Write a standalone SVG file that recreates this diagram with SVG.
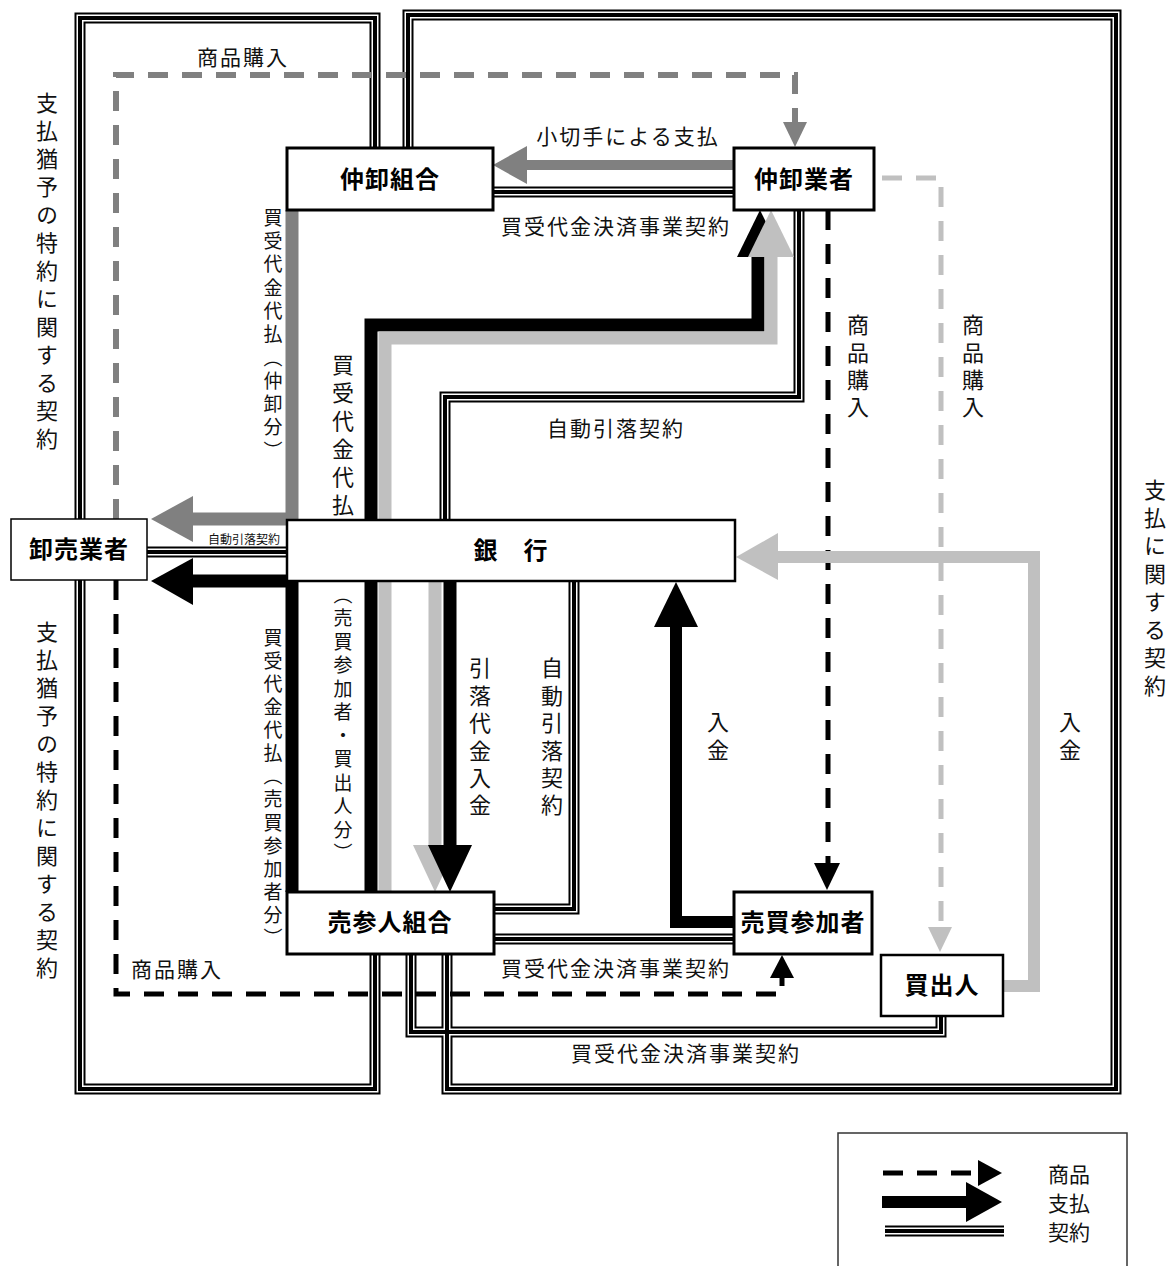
<svg xmlns="http://www.w3.org/2000/svg" width="1170" height="1266" viewBox="0 0 1170 1266">
<style>
.t1{fill:none;stroke:#000;stroke-width:11}
.t2{fill:none;stroke:#fff;stroke-width:7}
.t3{fill:none;stroke:#000;stroke-width:4}
.box{fill:#fff;stroke:#000;stroke-width:3}
.nl{font-family:"Noto Sans CJK JP",sans-serif;font-weight:bold;font-size:24px;text-anchor:middle;letter-spacing:1px;fill:#000}
.lb{font-family:"Noto Sans CJK JP",sans-serif;font-size:21px;text-anchor:middle;letter-spacing:2px;fill:#111}
.vt{font-family:"Noto Sans CJK JP",sans-serif;writing-mode:vertical-rl;fill:#111}
.v22{font-size:22px;letter-spacing:6px}
.dk{fill:none;stroke:#000;stroke-width:5;stroke-dasharray:20 14}
.dg{fill:none;stroke:#808080;stroke-width:6;stroke-dasharray:20 14}
.dl{fill:none;stroke:#c0c0c0;stroke-width:5;stroke-dasharray:20 14}
.pk{fill:none;stroke:#000;stroke-width:13}
.pg{fill:none;stroke:#808080;stroke-width:13}
.pl{fill:none;stroke:#c0c0c0;stroke-width:13}
.hk{fill:#000}
.hg{fill:#808080}
.hl{fill:#c0c0c0}
</style>
<defs>
<path id="c-left" d="M375,148 V18 H80 V1089 H375 V954"/>
<path id="c-right" d="M408,148 V15 H1116 V1089 H447 V954"/>
<path id="c-kk" d="M493,192 H734"/>
<path id="c-jd1" d="M799,210 V397 H445 V520"/>
<path id="c-jd2" d="M574,581 V909 H494"/>
<path id="c-ub" d="M494,939 H734"/>
<path id="c-kd" d="M411,954 V1032 H941 V1016"/>
<path id="c-or" d="M147,552 H287"/>
<path id="c-leg" d="M885,1231 H1004"/>
</defs>

<g id="connectors">
<g class="t1"><use href="#c-left"/><use href="#c-right"/><use href="#c-kk"/><use href="#c-jd1"/><use href="#c-jd2"/><use href="#c-ub"/><use href="#c-kd"/><use href="#c-or"/></g>
<g class="t2"><use href="#c-left"/><use href="#c-right"/><use href="#c-kk"/><use href="#c-jd1"/><use href="#c-jd2"/><use href="#c-ub"/><use href="#c-kd"/><use href="#c-or"/></g>
<g class="t3"><use href="#c-left"/><use href="#c-right"/><use href="#c-kk"/><use href="#c-jd1"/><use href="#c-jd2"/><use href="#c-ub"/><use href="#c-kd"/><use href="#c-or"/></g>

<!-- goods (dashed) -->
<path class="dg" d="M116,519 V75 H795 V124"/>
<polygon class="hg" points="783,122 807,122 795,147"/>
<path class="dk" d="M828,210 V865"/>
<polygon class="hk" points="814,863 840,863 827,890"/>
<path class="dl" d="M882,178 H941 V929"/>
<polygon class="hl" points="928,927 952,927 940,952"/>
<path class="dk" d="M116,580 V994 H782 V976"/>
<polygon class="hk" points="770,978 794,978 782,955"/>

<!-- payments -->
<path class="pg" d="M734,165 H525" style="stroke-width:10"/>
<polygon class="hg" points="527,146 527,184 493,165"/>
<path class="pg" d="M292,210 V519 H191"/>
<polygon class="hg" points="193,496 193,542 151,519"/>
<path class="pk" d="M292,892 V581 H191"/>
<polygon class="hk" points="193,558 193,605 151,581"/>
<path class="pk" d="M371,892 V325 H758 V255"/>
<polygon class="hk" points="737,257 783,257 760,210"/>
<path class="pl" d="M385,892 V338 H771 V255"/>
<polygon class="hl" points="748,257 794,257 771,210"/>
<path class="pl" d="M435,581 V847"/>
<polygon class="hl" points="413,845 457,845 435,892"/>
<path class="pk" d="M450,581 V847"/>
<polygon class="hk" points="428,845 472,845 450,892"/>
<path class="pk" d="M734,922 H676 V625" style="stroke-width:12"/>
<polygon class="hk" points="654,627 698,627 676,582"/>
<path class="pl" d="M1003,986 H1034 V557 H776" style="stroke-width:12"/>
<polygon class="hl" points="778,533 778,580 736,557"/>
</g>

<g id="n-nakaoroshi-kumiai"><rect class="box" x="287" y="148" width="206" height="62"/><text class="nl" x="390" y="188">仲卸組合</text></g>
<g id="n-nakaoroshi-gyosha"><rect class="box" x="734" y="148" width="140" height="62"/><text class="nl" x="804" y="188">仲卸業者</text></g>
<g id="n-oroshiuri"><rect class="box" x="11" y="519" width="136" height="61" style="stroke-width:1.5"/><text class="nl" x="79" y="558">卸売業者</text></g>
<g id="n-ginko"><rect class="box" x="287" y="520" width="448" height="61" style="stroke-width:2.5"/><text class="nl" x="511" y="559">銀　行</text></g>
<g id="n-urisan-kumiai"><rect class="box" x="287" y="892" width="207" height="62"/><text class="nl" x="390" y="931">売参人組合</text></g>
<g id="n-baibai"><rect class="box" x="734" y="892" width="138" height="62"/><text class="nl" x="803" y="931">売買参加者</text></g>
<g id="n-kaidashi"><rect class="box" x="881" y="955" width="122" height="61" style="stroke-width:2.5"/><text class="nl" x="942" y="994">買出人</text></g>

<g id="labels">
<text class="lb" x="243" y="65">商品購入</text>
<text class="lb" x="628" y="144">小切手による支払</text>
<text class="lb" x="616" y="234">買受代金決済事業契約</text>
<text class="lb" x="616" y="436">自動引落契約</text>
<text class="lb" x="244" y="544" style="font-size:12px;letter-spacing:0">自動引落契約</text>
<text class="lb" x="616" y="976">買受代金決済事業契約</text>
<text class="lb" x="177" y="977">商品購入</text>
<text class="lb" x="686" y="1061">買受代金決済事業契約</text>

<text class="vt v22" x="47" y="92">支払猶予の特約に関する契約</text>
<text class="vt v22" x="47" y="621">支払猶予の特約に関する契約</text>
<text class="vt v22" x="1155" y="479">支払に関する契約</text>
<text class="vt" x="273" y="208" style="font-size:19px;letter-spacing:4.3px">買受代金代払（仲卸分）</text>
<text class="vt v22" x="343" y="354">買受代金代払</text>
<text class="vt" x="343" y="585" style="font-size:19px;letter-spacing:4.5px">（売買参加者・買出人分）</text>
<text class="vt" x="273" y="628" style="font-size:19px;letter-spacing:4.1px">買受代金代払（売買参加者分）</text>
<text class="vt" x="480" y="657" style="font-size:22px;letter-spacing:5.4px">引落代金入金</text>
<text class="vt" x="552" y="657" style="font-size:22px;letter-spacing:5.4px">自動引落契約</text>
<text class="vt v22" x="718" y="711">入金</text>
<text class="vt v22" x="1070" y="711">入金</text>
<text class="vt" x="858" y="314" style="font-size:22px;letter-spacing:5.3px">商品購入</text>
<text class="vt" x="973" y="314" style="font-size:22px;letter-spacing:5.3px">商品購入</text>
</g>

<g id="legend">
<rect x="838" y="1133" width="289" height="200" fill="none" stroke="#333" stroke-width="1.5"/>
<path d="M883,1173 H978" fill="none" stroke="#000" stroke-width="5" stroke-dasharray="20 14"/>
<polygon class="hk" points="978,1160 978,1186 1002,1173"/>
<path d="M882,1202 H968" fill="none" stroke="#000" stroke-width="12"/>
<polygon class="hk" points="966,1182 966,1222 1002,1202"/>
<use href="#c-leg" class="t1"/><use href="#c-leg" class="t2"/><use href="#c-leg" class="t3"/>
<text class="lb" x="1048" y="1182" style="text-anchor:start;letter-spacing:0">商品</text>
<text class="lb" x="1048" y="1211" style="text-anchor:start;letter-spacing:0">支払</text>
<text class="lb" x="1048" y="1240" style="text-anchor:start;letter-spacing:0">契約</text>
</g>
</svg>
